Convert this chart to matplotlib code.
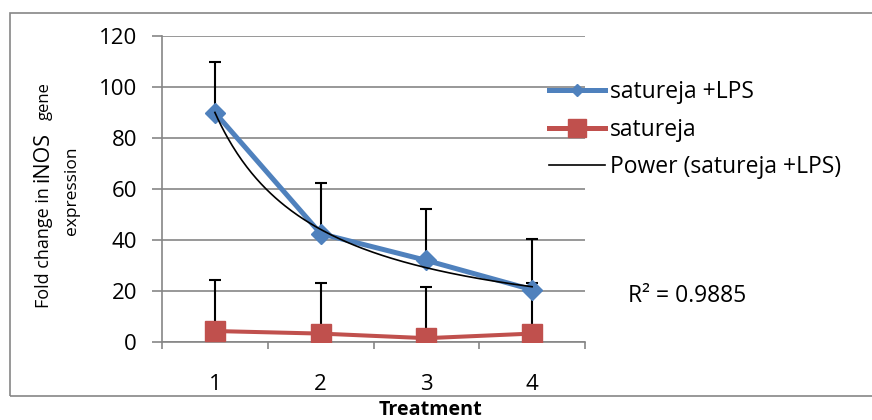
import matplotlib

matplotlib.use("Agg")
import matplotlib.pyplot as plt
import numpy as np
from matplotlib.patches import Rectangle

plt.rcParams["font.family"] = ["Open Sans", "DejaVu Sans"]

# data
treatments = [1, 2, 3, 4]
lps_values = [90.0, 42.5, 32.0, 20.5]
lps_err = [20.0, 20.0, 20.0, 20.0]
sat_values = [4.3, 3.3, 1.5, 3.3]
sat_err = [20.0, 20.0, 20.0, 20.0]
r2_label = "R² = 0.9885"

BLUE = "#4F81BD"
RED = "#C0504D"
GRID = "#868686"

W, H = 872, 420
fig = plt.figure(figsize=(W / 100, H / 100), dpi=100)


def fx(px):
    return px / W


def fy(py):
    return 1 - py / H


# chart border (runs off the right edge like the reference)
fig.patches.append(Rectangle((fx(10), fy(396)), 1.2, fy(13) - fy(396),
                             transform=fig.transFigure, fill=False,
                             edgecolor=GRID, lw=1.2))

ax = fig.add_axes([fx(162), fy(342), fx(585) - fx(162), fy(36) - fy(342)])

x = np.array(treatments, dtype=float)
lps = np.array(lps_values)
sat = np.array(sat_values)

# upper-only error bars, under the markers
ax.errorbar(x, lps, yerr=[np.zeros_like(lps), lps_err], fmt="none",
            ecolor="black", elinewidth=1.5, capsize=4.2, capthick=1.5, zorder=2)
ax.errorbar(x, sat, yerr=[np.zeros_like(sat), sat_err], fmt="none",
            ecolor="black", elinewidth=1.5, capsize=4.2, capthick=1.5, zorder=2)

ax.plot(x, lps, color=BLUE, lw=3.6, marker="D", ms=10, mfc=BLUE, mec=BLUE,
        label="satureja +LPS", zorder=3)
ax.plot(x, sat, color=RED, lw=2.9, marker="s", ms=14, mfc=RED, mec=RED,
        label="satureja", zorder=3)

# power trendline y = a * x^b fitted in log space
b, ln_a = np.polyfit(np.log(x), np.log(lps), 1)
xs = np.linspace(1, 4, 200)
ax.plot(xs, np.exp(ln_a) * xs ** b, color="black", lw=1.2,
        label="Power (satureja +LPS)", zorder=4)

ax.set_xlim(0.5, 4.5)
ax.set_ylim(0, 120)
ax.set_yticks(np.arange(0, 121, 20))
ax.set_xticks(treatments)
ax.set_xticks(np.arange(0.5, 4.6, 1.0), minor=True)
ax.tick_params(axis="x", which="major", length=0, pad=23, labelsize=16)
ax.tick_params(axis="x", which="minor", length=5, width=1.2, color=GRID)
ax.tick_params(axis="y", length=7, width=1.2, color=GRID, pad=11, labelsize=16)
ax.grid(axis="y", color=GRID, lw=1.2)
ax.set_axisbelow(True)
for side in ("top", "right"):
    ax.spines[side].set_visible(False)
for side in ("left", "bottom"):
    ax.spines[side].set_color(GRID)
    ax.spines[side].set_linewidth(1.2)

leg = ax.legend(loc="upper left", bbox_to_anchor=(fx(549), fy(80.5)),
                bbox_transform=fig.transFigure, frameon=False, fontsize=16.5,
                handlelength=2.45, handletextpad=0.22, labelspacing=0.58,
                borderaxespad=0, borderpad=0)
leg.legend_handles[0].set_markersize(6.2)
leg.legend_handles[1].set_markersize(13)
leg.legend_handles[1].set_linewidth(3.6)

fig.text(fx(628), fy(296), r2_label, fontsize=16.5, va="center", ha="left")

# y label: mixed sizes like the reference, stacked bottom to top
renderer = fig.canvas.get_renderer()
y_px = 308
for piece, size, gap in [("Fold change in", 13, 5),
                         ("iNOS", 15.5, 12),
                         ("gene", 12, 0)]:
    t = fig.text(fx(53), fy(y_px), piece, rotation=90, fontsize=size,
                 ha="right", va="bottom")
    y_px -= t.get_window_extent(renderer).height + gap
fig.text(fx(72), fy(191), "expression", rotation=90, fontsize=12.5,
         ha="center", va="center")

fig.text(fx(430), fy(420), "Treatment", fontsize=14.2, fontweight="bold",
         ha="center", va="bottom")

fig.savefig("out.png", dpi=100, facecolor="white")
